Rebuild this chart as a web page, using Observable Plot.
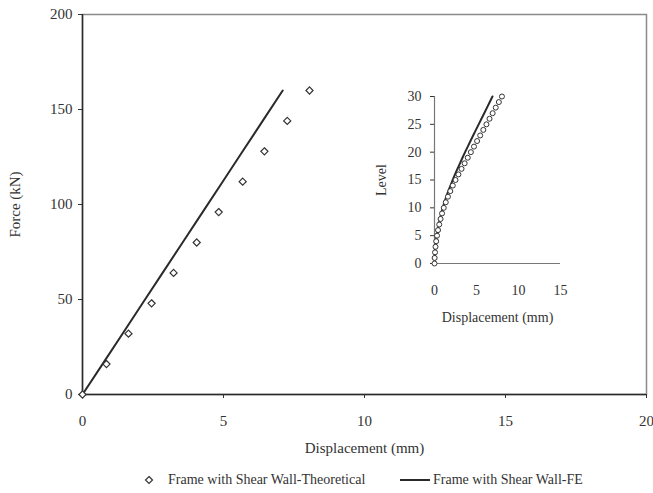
<!DOCTYPE html>
<html>
<head>
<meta charset="utf-8">
<script src="https://cdn.jsdelivr.net/npm/d3@7"></script>
<script src="https://cdn.jsdelivr.net/npm/@observablehq/plot@0.6"></script>
<style>
  html, body { margin: 0; padding: 0; background: #fff; }
  #wrap { position: relative; width: 653px; height: 493px; font-family: "Liberation Serif", serif; color: #333; }
  #inset { position: absolute; left: 360px; top: 80px; }
  #legend { position: absolute; left: 0; top: 472px; width: 653px; height: 20px; font-size: 14px; color: #333; }
  #legend .item { position: absolute; top: 0; display: flex; align-items: center; white-space: nowrap; }
</style>
</head>
<body>
<div id="wrap">
  <div id="main"></div>
  <div id="inset"></div>
  <div id="legend"></div>
</div>
<script>
// ---- Main chart data ----
const seriesNames = ["Frame with Shear Wall-Theoretical", "Frame with Shear Wall-FE"];
const theoDisp  = [0, 0.85, 1.63, 2.45, 3.23, 4.05, 4.83, 5.68, 6.45, 7.26, 8.05];
const theoForce = [0, 16, 32, 48, 64, 80, 96, 112, 128, 144, 160];
const feDisp    = [0, 0.71, 1.42, 2.13, 2.84, 3.55, 4.26, 4.97, 5.68, 6.39, 7.1];
const feForce   = [0, 16, 32, 48, 64, 80, 96, 112, 128, 144, 160];
const xTicks = [0, 5, 10, 15, 20];
const yTicks = [0, 50, 100, 150, 200];

// ---- Inset data ----
const levels = [0,1,2,3,4,5,6,7,8,9,10,11,12,13,14,15,16,17,18,19,20,21,22,23,24,25,26,27,28,29,30];
const insetTheo = [0,0.02,0.06,0.12,0.2,0.3,0.42,0.56,0.72,0.9,1.1,1.34,1.6,1.88,2.18,2.5,2.85,3.22,3.59,3.96,4.33,4.7,5.07,5.44,5.81,6.18,6.55,6.92,7.29,7.66,8.03];
const insetFE   = [0,0.02,0.06,0.11,0.18,0.27,0.38,0.5,0.64,0.8,0.98,1.18,1.4,1.64,1.9,2.16,2.44,2.73,3.03,3.33,3.64,3.96,4.28,4.6,4.93,5.26,5.59,5.92,6.25,6.58,6.9];
const insetXTicks = [0, 5, 10, 15];
const insetYTicks = [0, 5, 10, 15, 20, 25, 30];

const theo = theoDisp.map((d, i) => ({x: d, y: theoForce[i]}));
const fe = feDisp.map((d, i) => ({x: d, y: feForce[i]}));
const iTheo = levels.map((l, i) => ({x: insetTheo[i], y: l}));
const iFE = levels.map((l, i) => ({x: insetFE[i], y: l}));

const ink = "#2a2a2a";

const main = Plot.plot({
  width: 653, height: 462,
  marginLeft: 82, marginRight: 7, marginTop: 14, marginBottom: 68,
  style: {fontFamily: "Liberation Serif", fontSize: "15px", color: "#333", background: "transparent", overflow: "visible"},
  x: {domain: [0, 20]},
  y: {domain: [0, 200]},
  marks: [
    Plot.frame({stroke: "#8a8a8a", strokeWidth: 1.5}),
    Plot.axisX({ticks: xTicks, tickSize: 4, tickPadding: 17, label: "Displacement (mm)", labelArrow: "none", labelAnchor: "center", labelOffset: 58, fontSize: 15}),
    Plot.axisY({ticks: yTicks, tickSize: 4, tickPadding: 6, label: "Force (kN)", labelArrow: "none", labelAnchor: "center", labelOffset: 73, fontSize: 15}),
    Plot.ruleX([0], {stroke: ink, strokeWidth: 1.5}),
    Plot.ruleY([0], {stroke: ink, strokeWidth: 1.5}),
    Plot.line(fe, {x: "x", y: "y", stroke: ink, strokeWidth: 2}),
    Plot.dot(theo, {x: "x", y: "y", symbol: "diamond2", r: 3.2, stroke: "#333", strokeWidth: 1.2, fill: "white"})
  ]
});
document.getElementById("main").appendChild(main);

const inset = Plot.plot({
  width: 220, height: 250,
  marginLeft: 74, marginRight: 20, marginTop: 16, marginBottom: 67,
  style: {fontFamily: "Liberation Serif", fontSize: "14px", color: "#333", background: "transparent", overflow: "visible"},
  x: {domain: [0, 15]},
  y: {domain: [0, 30]},
  marks: [
    Plot.axisX({ticks: insetXTicks, tickSize: 0, tickPadding: 22, label: "Displacement (mm)", labelArrow: "none", labelAnchor: "center", labelOffset: 58, fontSize: 14}),
    Plot.axisY({ticks: insetYTicks, tickSize: 4, tickPadding: 9, label: "Level", labelArrow: "none", labelAnchor: "center", labelOffset: 58, fontSize: 14}),
    Plot.ruleX([0], {stroke: "#777", strokeWidth: 1.2}),
    Plot.ruleY([0], {stroke: "#777", strokeWidth: 1.2}),
    Plot.line(iFE, {x: "x", y: "y", stroke: ink, strokeWidth: 2}),
    Plot.dot(iTheo, {x: "x", y: "y", symbol: "circle", r: 2.5, stroke: "#333", strokeWidth: 1, fill: "white"})
  ]
});
document.getElementById("inset").appendChild(inset);

// ---- Legend ----
const legend = document.getElementById("legend");
legend.innerHTML =
  `<div class="item" style="left:143px"><svg width="12" height="12"><path d="M6,2.5 L9.5,6 L6,9.5 L2.5,6 Z" fill="white" stroke="#333" stroke-width="1.2"/></svg><span style="margin-left:13px">${seriesNames[0]}</span></div>` +
  `<div class="item" style="left:400px"><svg width="30" height="12"><line x1="0" y1="6" x2="30" y2="6" stroke="${ink}" stroke-width="2"/></svg><span style="margin-left:3px">${seriesNames[1]}</span></div>`;
</script>
</body>
</html>
